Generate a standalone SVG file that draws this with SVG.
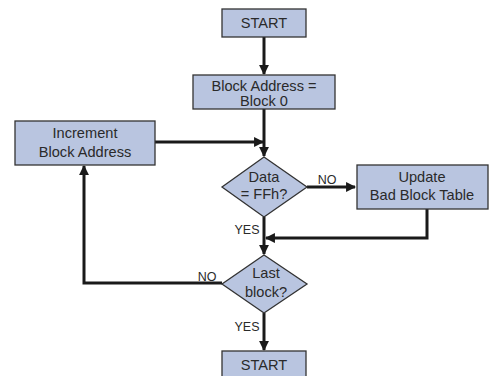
<svg xmlns="http://www.w3.org/2000/svg" width="492" height="376" viewBox="0 0 492 376">
<style>
.box{fill:#b9c5e0;stroke:#333;stroke-width:1.3}
.t{font-family:"Liberation Sans",Arial,sans-serif;font-size:14.6px;fill:#2a2a2a;text-anchor:middle}
.l{font-family:"Liberation Sans",Arial,sans-serif;font-size:12.5px;fill:#2a2a2a;text-anchor:middle}
.c{fill:none;stroke:#1a1a1a;stroke-width:3}
</style>
<defs>
<marker id="a" viewBox="0 0 10 10" refX="9" refY="5" markerWidth="3.3" markerHeight="3.3" orient="auto" markerUnits="strokeWidth">
<path d="M0,0 L10,5 L0,10 z" fill="#1a1a1a"/>
</marker>
</defs>
<rect width="492" height="376" fill="#fff"/>
<g id="connectors">
<path class="c" d="M264,37 V74" marker-end="url(#a)"/>
<path class="c" d="M264,109 V156" marker-end="url(#a)"/>
<path class="c" d="M155,142 H263" marker-end="url(#a)"/>
<path class="c" d="M307,187 H355" marker-end="url(#a)"/>
<path class="c" d="M427,209 V238 H266" marker-end="url(#a)"/>
<path class="c" d="M264,217 V254" marker-end="url(#a)"/>
<path class="c" d="M222,283 H84 V166" marker-end="url(#a)"/>
<path class="c" d="M264,313 V350" marker-end="url(#a)"/>
</g>
<g id="start">
<rect class="box" x="222" y="9" width="84" height="28"/>
<text class="t" x="264" y="28">START</text>
</g>
<g id="blockaddr">
<rect class="box" x="193" y="75" width="142" height="34"/>
<text class="t" x="264" y="91">Block Address =</text>
<text class="t" x="264" y="106">Block 0</text>
</g>
<g id="increment">
<rect class="box" x="15" y="121" width="140" height="44"/>
<text class="t" x="85" y="138">Increment</text>
<text class="t" x="85" y="157">Block Address</text>
</g>
<g id="data">
<polygon class="box" points="264,157 307,187 264,217 222,187"/>
<text class="t" x="264" y="182">Data</text>
<text class="t" x="264" y="199">= FFh?</text>
</g>
<g id="update">
<rect class="box" x="357" y="165" width="131" height="44"/>
<text class="t" x="422" y="182">Update</text>
<text class="t" x="422" y="200">Bad Block Table</text>
</g>
<g id="last">
<polygon class="box" points="264,255 307,284 264,313 222,284"/>
<text class="t" x="266" y="278">Last</text>
<text class="t" x="266" y="297">block?</text>
</g>
<g id="end">
<rect class="box" x="222" y="351" width="84" height="28"/>
<text class="t" x="264" y="370">START</text>
</g>
<g id="labels">
<text class="l" x="327" y="184">NO</text>
<text class="l" x="247" y="234">YES</text>
<text class="l" x="207" y="281">NO</text>
<text class="l" x="247" y="331">YES</text>
</g>
</svg>
